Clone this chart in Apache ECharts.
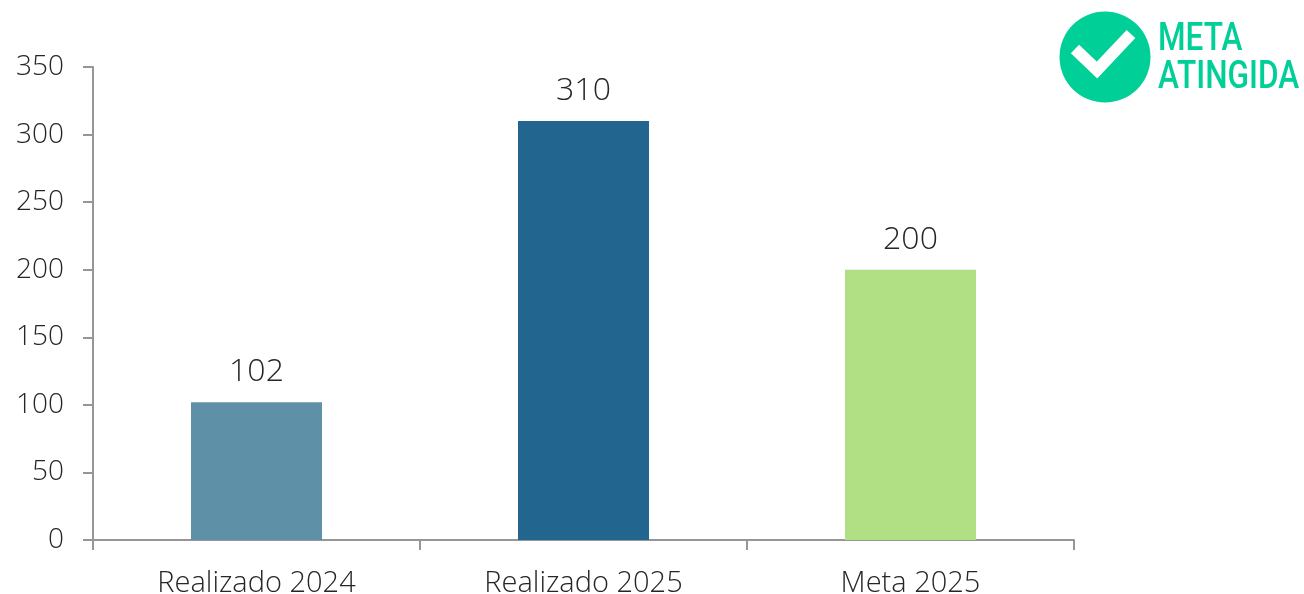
<!DOCTYPE html>
<html><head><meta charset="utf-8">
<style>html,body{margin:0;padding:0;background:#fff}#c{width:1304px;height:594px}</style>
<script src="https://cdn.jsdelivr.net/npm/echarts@6/dist/echarts.min.js"></script>
</head><body><div id="c"></div>
<script>
const categories = ['Realizado 2024', 'Realizado 2025', 'Meta 2025'];
const values = [102, 310, 200];
const barColors = ['#5E90A8', '#22658F', '#B1DF84'];
const badgeLines = ['META', 'ATINGIDA'];

const chart = echarts.init(document.getElementById('c'), null, {renderer: 'canvas'});
const font = '"Open Sans"';
const ink = '#262626';
const gray = '#969696';
const axisLine = {show: true, lineStyle: {color: gray, width: 2}};
chart.setOption({
  animation: false,
  backgroundColor: '#fff',
  grid: {left: 93, right: 230, top: 67, bottom: 54, outerBoundsMode: 'none'},
  xAxis: {
    type: 'category', data: categories,
    axisLine: axisLine,
    axisTick: {show: true, length: 10, lineStyle: {color: gray, width: 2}},
    axisLabel: {color: ink, fontFamily: font, fontWeight: 300, fontSize: 29, margin: 28, lineHeight: 32}
  },
  yAxis: {
    type: 'value', min: 0, max: 350, interval: 50,
    axisLine: axisLine,
    axisTick: {show: true, length: 10, lineStyle: {color: gray, width: 2}},
    splitLine: {show: false},
    axisLabel: {color: ink, fontFamily: font, fontWeight: 300, fontSize: 28, margin: 29}
  },
  series: [{
    type: 'bar', barWidth: 131,
    data: values.map((v, i) => ({value: v, itemStyle: {color: barColors[i]}})),
    label: {show: true, position: 'top', distance: 14, color: ink, fontFamily: font, fontWeight: 300, fontSize: 32}
  }],
  graphic: [
    {type: 'circle', shape: {cx: 1105, cy: 57, r: 45.5}, style: {fill: '#00CF98'}},
    {type: 'polyline', shape: {points: [[1075, 49], [1097, 70], [1131, 34]]}, style: {fill: 'none', stroke: '#fff', lineWidth: 12, lineJoin: 'miter', lineCap: 'butt'}},
    {type: 'text', x: 1158, y: 40, scaleX: 0.83, style: {text: badgeLines[0], fill: '#00CF98', font: '500 38px "Roboto"', verticalAlign: 'middle'}},
    {type: 'text', x: 1158, y: 78, scaleX: 0.83, style: {text: badgeLines[1], fill: '#00CF98', font: '500 38px "Roboto"', verticalAlign: 'middle'}}
  ]
});
</script></body></html>
